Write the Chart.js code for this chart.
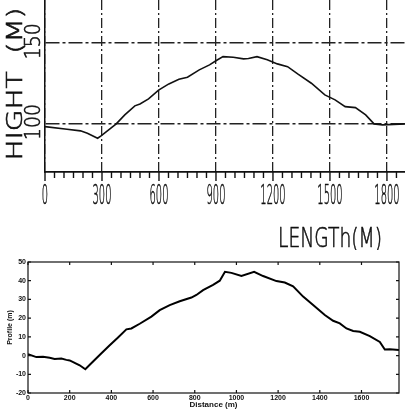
<!DOCTYPE html>
<html>
<head>
<meta charset="utf-8">
<script src="https://cdn.jsdelivr.net/npm/chart.js@4.4.1/dist/chart.umd.min.js"></script>
<style>
  html, body { margin: 0; padding: 0; background: #fff; }
  #wrap { position: relative; width: 405px; height: 415px; overflow: hidden; }
  #topChart { position: absolute; left: 0; top: 0; }
  #profileChart { position: absolute; left: 0; top: 250px; }
</style>
</head>
<body>
<div id="wrap">
  <canvas id="topChart" width="405" height="250"></canvas>
  <canvas id="profileChart" width="405" height="165"></canvas>
</div>
<script>
// upper (scanned) profile
const topLength = [0, 116, 187, 223, 277, 295, 375, 420, 473, 500, 545, 598, 652, 705, 750, 812, 866, 902, 937, 991, 1045, 1071, 1116, 1170, 1223, 1277, 1330, 1402, 1473, 1527, 1580, 1634, 1688, 1732, 1777, 1895];
const topHeight = [98.3, 96.7, 95.7, 94.2, 91.1, 92.6, 100, 105.6, 111.2, 112.4, 115.5, 121, 124.8, 127.7, 128.9, 133.5, 136.6, 139.3, 141.7, 141.3, 140.3, 140.5, 141.7, 139.7, 137.2, 135.5, 131, 125.2, 118, 114.9, 110.7, 110.1, 105.6, 100, 99.4, 100];
const topXTicks = [0, 300, 600, 900, 1200, 1500, 1800];
const topYTicks = [100, 150];

// lower profile
const distance = [0, 40, 72, 104, 128, 160, 184, 200, 248, 275, 300, 350, 392, 432, 472, 496, 536, 592, 632, 680, 728, 784, 808, 840, 888, 920, 945, 976, 1024, 1085, 1128, 1192, 1232, 1272, 1320, 1368, 1424, 1464, 1496, 1528, 1560, 1592, 1640, 1688, 1712, 1736, 1780];
const profile = [0.8, -0.8, -0.6, -1.2, -1.8, -1.6, -2.3, -2.6, -5.2, -7.3, -4.5, 1, 5.5, 9.7, 14, 14.5, 17, 20.8, 24.3, 27, 29, 31, 32.4, 35, 37.8, 40, 44.8, 44.2, 42.5, 44.8, 42.5, 39.8, 39, 37, 31.5, 27, 21.7, 18.6, 17.2, 14.5, 13.1, 12.7, 10.4, 7.3, 3.2, 3.4, 3.0];
const distTicks = [0, 200, 400, 600, 800, 1000, 1200, 1400, 1600];
const profileTicks = [-20, -10, 0, 10, 20, 30, 40, 50];

// thin, squeezed text like the scanned figure
function drawText(ctx, text, cx, cy, angle, size, targetW) {
  ctx.save();
  ctx.font = '200 ' + size + 'px "DejaVu Sans"';
  const w = ctx.measureText(text).width;
  ctx.translate(cx, cy);
  ctx.rotate(angle);
  ctx.scale(targetW / w, 1);
  ctx.textAlign = 'center';
  ctx.textBaseline = 'middle';
  ctx.lineWidth = 0.6;
  ctx.fillText(text, 0, 0);
  ctx.strokeText(text, 0, 0);
  ctx.restore();
}

const scanText = {
  id: 'scanText',
  afterDraw(chart) {
    const ctx = chart.ctx;
    const xs = chart.scales.x, ys = chart.scales.y;
    const bottom = chart.chartArea.bottom;
    ctx.save();
    ctx.strokeStyle = '#111';
    ctx.lineWidth = 1.4;
    for (let v = 0; v <= 1850; v += 50) {
      const px = xs.getPixelForValue(v);
      ctx.beginPath();
      ctx.moveTo(px, bottom);
      ctx.lineTo(px, bottom + (v % 300 === 0 ? 9 : 6));
      ctx.stroke();
    }
    ctx.fillStyle = '#111';
    topXTicks.forEach(v => {
      const s = String(v);
      drawText(ctx, s, xs.getPixelForValue(v), bottom + 25, 0, 26, s.length * 6.3);
    });
    topYTicks.forEach(v => {
      drawText(ctx, String(v), 34, ys.getPixelForValue(v) - 2, -Math.PI / 2, 22, 36);
    });
    drawText(ctx, 'LENGTh(M)', 330, 240, 0, 26, 104);
    drawText(ctx, 'HIGHT  (M)', 17, 84, -Math.PI / 2, 21, 153);
    ctx.restore();
  }
};

new Chart(document.getElementById('topChart'), {
  type: 'line',
  data: {
    datasets: [{
      data: topLength.map((x, i) => ({ x: x, y: topHeight[i] })),
      borderColor: '#111',
      borderWidth: 1.6,
      pointRadius: 0,
      tension: 0
    }]
  },
  options: {
    responsive: false,
    animation: false,
    devicePixelRatio: 1,
    layout: { padding: 0 },
    plugins: { legend: { display: false }, tooltip: { enabled: false } },
    scales: {
      x: {
        type: 'linear',
        min: 0,
        max: 1895,
        afterBuildTicks: s => { s.ticks = topXTicks.map(v => ({ value: v })); },
        afterFit: s => { s.height = 78; },
        ticks: { display: false },
        grid: { color: '#222', lineWidth: 1.3, drawTicks: false },
        border: { color: '#111', width: 1.8, dash: [10, 3, 2, 3] }
      },
      y: {
        min: 70.2,
        max: 176.8,
        afterBuildTicks: s => { s.ticks = topYTicks.map(v => ({ value: v })); },
        afterFit: s => { s.width = 45; },
        ticks: { display: false },
        grid: { color: '#222', lineWidth: 1.5, drawTicks: false },
        border: { color: '#111', width: 1.5, dash: [14, 3, 3, 3] }
      }
    }
  },
  plugins: [scanText]
});

const frame = {
  id: 'frame',
  afterDraw(chart) {
    const ctx = chart.ctx;
    const a = chart.chartArea;
    const xs = chart.scales.x, ys = chart.scales.y;
    ctx.save();
    ctx.strokeStyle = '#111';
    ctx.lineWidth = 1.2;
    ctx.strokeRect(a.left, a.top, a.right - a.left, a.bottom - a.top);
    ctx.beginPath();
    distTicks.forEach(v => {
      const px = xs.getPixelForValue(v);
      ctx.moveTo(px, a.bottom); ctx.lineTo(px, a.bottom - 3);
      ctx.moveTo(px, a.top); ctx.lineTo(px, a.top + 3);
    });
    profileTicks.forEach(v => {
      const py = ys.getPixelForValue(v);
      ctx.moveTo(a.left, py); ctx.lineTo(a.left + 3, py);
      ctx.moveTo(a.right, py); ctx.lineTo(a.right - 3, py);
    });
    ctx.stroke();
    ctx.restore();
  }
};

const smallFont = { family: 'Liberation Sans', size: 7, weight: 'bold' };

new Chart(document.getElementById('profileChart'), {
  type: 'line',
  data: {
    datasets: [{
      data: distance.map((x, i) => ({ x: x, y: profile[i] })),
      borderColor: '#000',
      borderWidth: 2,
      pointRadius: 0,
      tension: 0
    }]
  },
  options: {
    responsive: false,
    animation: false,
    devicePixelRatio: 1,
    layout: { padding: { left: 6, right: 6, top: 12, bottom: 5 } },
    plugins: { legend: { display: false }, tooltip: { enabled: false } },
    scales: {
      x: {
        type: 'linear',
        min: 0,
        max: 1780,
        afterBuildTicks: s => { s.ticks = distTicks.map(v => ({ value: v })); },
        afterFit: s => { s.height = 17; },
        ticks: { font: smallFont, color: '#111', padding: 1, maxRotation: 0, autoSkip: false, callback: v => String(v) },
        grid: { display: false, drawTicks: false },
        border: { display: false },
        title: { display: true, text: 'Distance (m)', color: '#111', padding: 0, font: { family: 'Liberation Sans', size: 8, weight: 'bold' } }
      },
      y: {
        min: -20,
        max: 50,
        afterBuildTicks: s => { s.ticks = profileTicks.map(v => ({ value: v })); },
        afterFit: s => { s.width = 22; },
        ticks: { font: smallFont, color: '#111', padding: 2, callback: v => String(v) },
        grid: { display: false, drawTicks: false },
        border: { display: false },
        title: { display: true, text: 'Profile (m)', color: '#111', padding: 0, font: { family: 'Liberation Sans', size: 7, weight: 'bold' } }
      }
    }
  },
  plugins: [frame]
});
</script>
</body>
</html>
